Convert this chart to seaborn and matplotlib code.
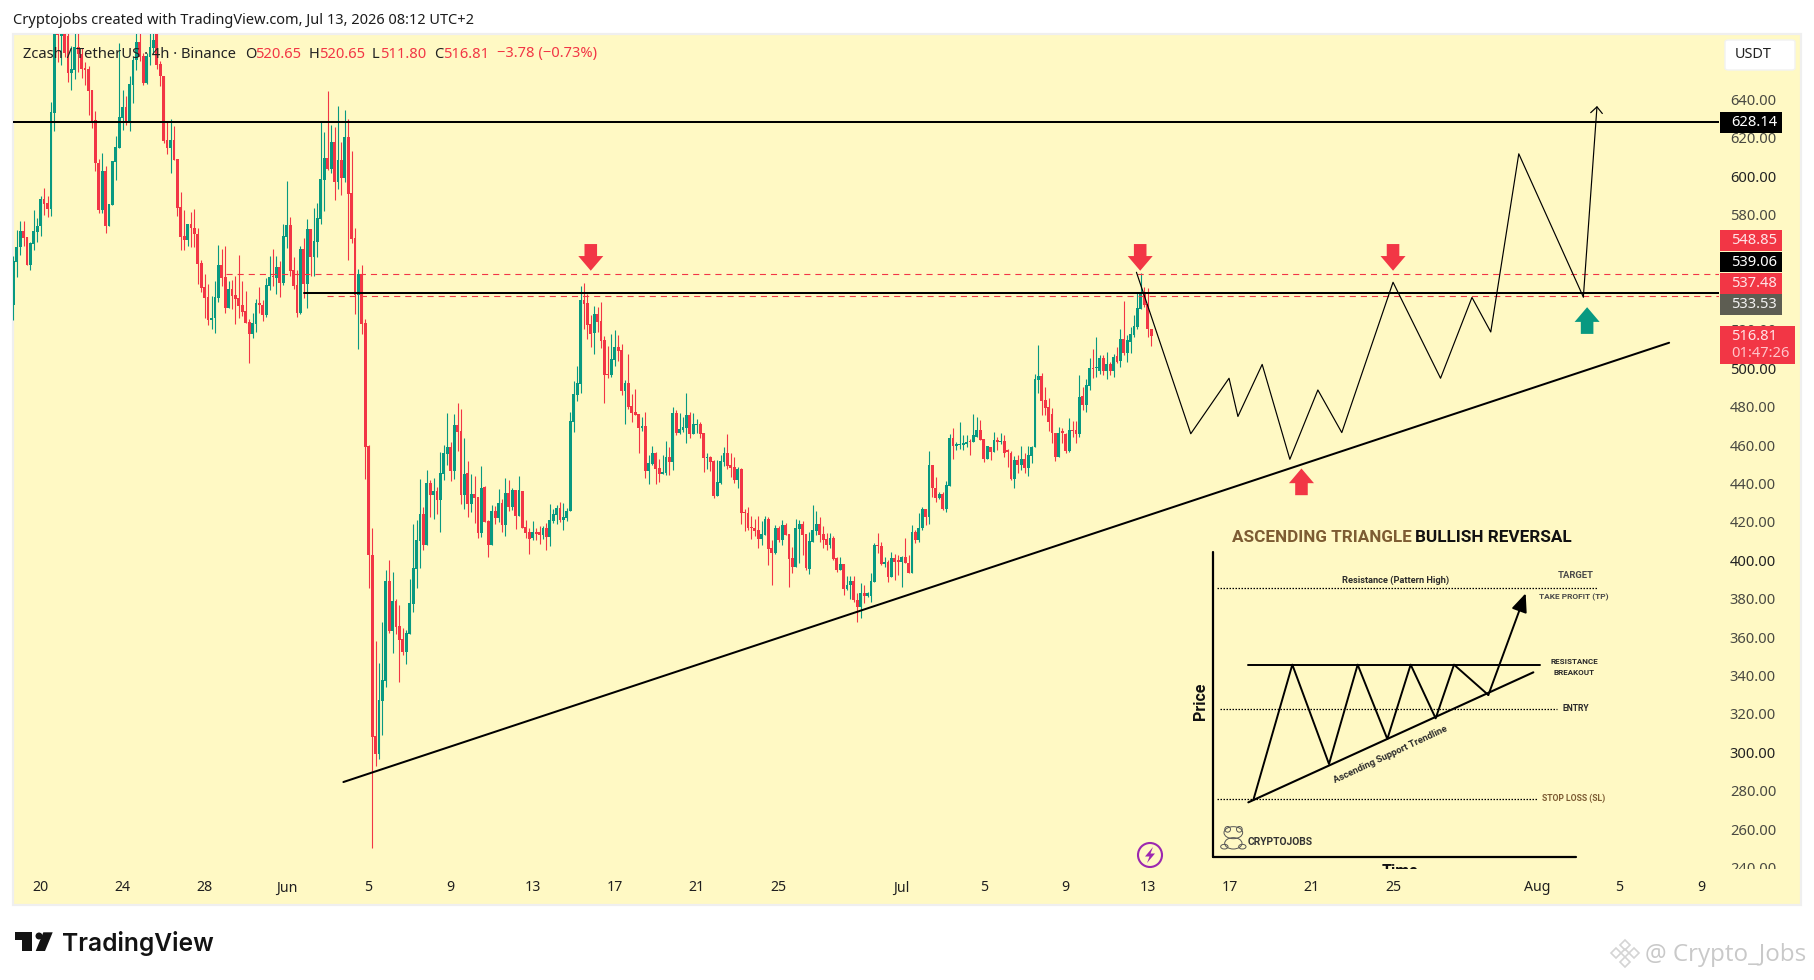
import numpy as np
import pandas as pd
import matplotlib
matplotlib.use("Agg")
import matplotlib.pyplot as plt
import seaborn as sns
from matplotlib.patches import Rectangle, Polygon, Ellipse, FancyBboxPatch
from matplotlib.transforms import Bbox

# ======================
# Config
# ======================
W, H = 1814, 980
YELLOW = "#fff9c4"
RED = "#f23645"
GREEN = "#089981"
BROWN = "#7d5c33"
MAIN_FONT = ["Noto Sans", "DejaVu Sans"]
NARROW_FONT = ["Roboto", "DejaVu Sans"]

# ======================
# Data: 4h candles, first bar is 8 bars before May 20
# ======================
first_bar = -8
opens = [
    533.1,555.5,563,571.3,568.3,554,564.9,571,
    573.9,588.1,585.9,583.1,633,678,673,680,673,654,
    655.2,667.3,663.8,656.4,656,645.1,629.1,606.9,582.6,602.6,
    574.3,585.2,607.4,614.7,630.3,636,628.6,647.7,660.4,669.9,
    662.8,648.6,662.1,666.8,675,658.5,652.4,618.7,614.7,618.7,
    609,584,569,567,575.2,573,570,554.9,542.2,537,
    524.9,526,536.8,553.8,547.4,531.4,541.3,538.2,536.5,533,
    529.9,524,517.9,523.1,534,533,527.8,543,548.3,547.2,
    552.8,544.6,568.6,574.7,551.2,543.4,528.8,562.2,544,572.6,
    558,565.8,577.8,598.1,609.6,603.8,617.9,597.1,608.5,599.2,
    620.5,591.3,567.9,538.2,549.2,523.6,459.5,402.8,308.5,299.1,
    326.7,337.1,389.2,363.2,378.8,365.8,359,352.2,361.6,377.2,
    395.5,410,424.1,408,440.3,434,436.1,431.4,445,455.4,
    459,446.5,470.5,467.4,434,445.5,429.3,434.5,433,414.2,
    438.2,420.5,408,425.7,422,429.9,418.4,435.1,427.8,436.6,
    423.1,436.1,417.4,414.7,411.6,414.7,414.7,413.2,416.8,412.1,
    420.5,423.6,427.2,421,422,425.7,472,486.1,491.8,535.6,
    534,523.1,518.4,528.3,524.6,514.7,497,496.5,504.3,511.1,
    509.5,488.2,492.3,480.4,477.2,476.2,469,470,446.5,450.2,
    455.9,448,445,445.5,453.8,451.2,476.7,466.3,467.9,468.9,
    475.7,465.8,470.5,471,466.3,453.3,453.8,451.7,433.5,440.3,
    451.2,455.9,449.6,448.6,441.8,447.6,425.2,424.6,417.4,416.8,
    415.8,411.1,413.2,421.5,406.4,403.8,416.8,410.6,418.4,413.7,
    401.2,396.5,416.3,418.9,413.7,395.5,409.7,415.2,418.9,413.7,
    411,408,411.8,401.2,394.9,398,385,387.1,389.4,379.3,
    375.8,382.8,381.4,381.4,388.8,408,407.5,398,399.3,391.5,
    401,399.8,399.3,401.5,398.7,393.5,414.5,410.5,416.6,426.5,
    422.7,449.6,437.5,432.2,434.5,426.5,438.7,463.5,459.7,459.9,
    460,460.5,462.1,461.4,464.4,467.8,463.2,452.7,459.1,456.2,
    462.6,461.4,462.1,457,455.7,442.3,452.2,449.6,452.7,448.2,
    454.5,458.8,493.9,496,483.5,480,476.2,466.1,453.9,467.5,
    465.8,457.1,467.8,467.8,465.8,485.5,480.9,490.8,500.3,500,
    498.7,505.2,498.7,502.2,498.6,506.4,504,515.2,508.1,513.8,
    517.3,521.3,530.9,539.4,533.5,520.65,
]
highs = [
    558.3,571.8,576.9,576.9,568.3,566,582.6,578.2,
    589.5,593.9,589.9,638.7,690,685,688,690,678,668,
    675,675,666.8,659.3,657.2,645.1,633.8,609.2,612.1,605.2,
    585.5,607.8,621.1,669.4,645.1,641.6,652,662.4,678,678,
    664.2,664,675,676,680,659.8,652.4,628.6,629.8,626.3,
    609,591.6,582.2,575.3,581.6,582.8,573,556.4,549,544,
    537.4,545.5,564.3,562.2,563.7,545.5,546,548.3,559,545.5,
    540.3,525.7,529,536.1,542.4,535.6,546.9,558.5,562.2,558.5,
    555.9,575.2,597.6,578.8,557.7,551.2,563.7,567.9,577.8,572.6,
    583.5,586.1,628.8,623.1,644.5,626.8,625.7,636.7,617.9,634.6,
    629.9,613.2,573.1,551.8,553.8,525.7,460,416.8,358,346.3,
    367.9,395,400.2,393.9,379.9,376.7,364.7,363.7,390.3,418.9,
    421,442.4,427.8,447,441.8,442.9,438.2,456.4,460,476.7,
    461.6,476.2,481.9,478.8,463.7,451.7,444.9,443.9,433,449.1,
    438.7,421,428.8,428.3,437.1,431.9,442.9,441.8,437.7,436.6,
    443.9,436.1,421,416.8,420.5,416.8,417.9,417.9,419.4,429.3,
    426.7,428.8,430.4,429.9,427.2,477.3,493.4,501.2,542.9,544.4,
    538.7,527.8,532.4,531.9,534.5,516.8,511.6,517.9,519.9,517.4,
    512.7,493.9,507.4,486.6,489.2,476.2,474.6,477.2,454.8,459.5,
    456.4,452.8,454.8,462.1,459,479.8,478.3,476.7,474.6,487.1,
    477.2,476.7,473.6,472,466.3,455.9,454.3,452.2,452.2,454.8,
    459,465.8,455.9,453.8,448.6,448,426.7,427.8,423,421.5,
    423,420.5,423,422.6,410.6,418.4,417.9,421,419.4,413.7,
    407,421.5,421,420.5,413.7,414.9,428.8,425.8,422.7,417.8,
    414,414.4,412.6,401.9,401.9,398,391.8,391.8,391.8,383,
    388,387.1,383.6,393.2,409.2,414,409.7,401.9,400.1,404.5,
    403.2,402.7,402.2,411.8,402.7,418.4,415.7,424.4,427.9,426.5,
    457,449.6,443.5,435.7,435.7,441.5,465.8,468.7,461.8,472.2,
    465.2,465.2,463,476.2,474.4,473,463.2,459.7,459.1,467,
    464.4,466.1,465.2,457.8,457,454.3,454.8,459.5,455.7,459.5,
    459.5,496.8,512.1,497.4,490,484.3,479.1,466.5,469.2,468.7,
    466.5,473.9,472.5,472.7,496.5,490.4,494.2,505.2,509.9,516.1,
    506.9,506.9,508.6,503.4,507.4,511.2,520.3,535,517.3,521.7,
    527.7,539,549.4,542.5,542,520.65,
]
lows = [
    525.3,547.5,559.1,563.5,554,551.3,561.8,565.6,
    569,580,578.8,579.5,623.4,659.3,658,662,649,645,
    650.6,654.1,651.2,647.7,632.1,625.1,602.6,580.9,580.9,570.4,
    574.3,585.2,598.2,614.7,624.3,626.9,623.7,638.1,655.2,660,
    647.7,648,658.1,663.8,656,646.8,617.3,611.8,601.7,608.6,
    579.5,561.8,561.8,563.5,563.4,563.4,544,539.6,526.4,522.6,
    520.5,518.6,534.7,542.9,529,531.4,531.1,523.1,526.2,527.3,
    523.5,503,515.8,519.1,529,524.7,526.8,540.8,543.1,538.7,
    537,543.4,562.4,548.3,541.3,526.8,528.3,536.7,531.4,548,
    548.1,558,575.2,582,603.3,601.8,587.7,593.4,590.3,597.1,
    556.4,565.3,528.3,510.1,517.9,442.4,385.8,250,293,296.5,
    309,334.2,362.3,351.7,361.6,336.6,350.7,346,361.6,373.1,
    385.6,396,405.4,408,422.6,421.5,424.1,414.7,441.8,449.6,
    441.3,442.4,456.9,429.3,426.7,422.6,425.2,419.4,411.6,412.1,
    420,401.7,408,418.9,420,414.7,412.7,425.7,426,416.3,
    423.1,416.8,411.6,403.3,410.6,410.6,408.5,411.1,405.4,407.5,
    419.4,418.9,420,415.8,420.5,425.7,466.8,483,487.1,520.5,
    515.3,511.1,507.4,518.9,510.6,482,495,495.5,501.2,503.8,
    486.1,471,478.8,472,475.7,455.9,467.3,443,439.7,449.6,
    439.7,440.8,445,444.4,444.4,447,465.3,465.8,466.8,461.1,
    463.7,465.8,466.3,463.7,446,447.5,446.5,432.4,433.5,439.7,
    449.1,447.5,443.4,440.3,437.7,418.9,415.3,415.8,411.1,412.7,
    406.4,408,413.2,397.5,387.1,403.3,409.5,408,413.2,386.1,
    393.4,396.5,398.6,402.8,394.9,392.7,409.7,413.2,409.7,406.2,
    405.3,406.2,400,394,394.9,381.9,384.5,380,378.4,368,
    369.8,377.6,380.7,378.4,388.8,403.6,397.5,396.7,388.8,391.5,
    389.7,392.3,386.2,398.4,393.5,393.5,409.2,409.7,416,418.4,
    418.7,433.1,430.5,432,426.2,425.3,438.7,452.7,457.4,457.8,
    457.4,458.8,454.8,461.4,464.4,462.6,451.3,452.7,452.2,456.2,
    457.4,460.5,453.6,448.7,441.8,437.8,445.3,447,445.3,444.1,
    450.5,458.8,487.3,475.7,475.7,467.3,460.9,451.9,453.6,461.2,
    455.7,456.6,464.4,461.2,464.4,478.3,477.4,488.7,494.8,495.3,
    496.8,496.5,494.2,496.5,495.6,502.6,500.8,506.9,503.1,507.8,
    516.5,520.3,530.9,532.1,516.5,511.8,
]
closes = [
    555.7,563.1,571.3,568,554,565.2,571.3,573.9,
    588.1,585.5,583.1,633.5,680,673.5,678,664.2,653.8,655.8,
    667.3,663.8,655.8,655.5,644.6,628.6,606.9,582.6,602.6,574.3,
    585.5,607.8,615,630.8,636,628,648,660.7,669.9,662.1,
    648.6,662.8,667.3,670.8,658.1,652,618.2,614.7,618.7,608.6,
    583.5,568.3,566.6,575.3,572.9,569.8,554.5,542,536.8,524.9,
    526.2,537,553.8,547.2,531.4,541.3,537.9,536.1,532.5,529.5,
    523.8,517.9,523.6,534,532.7,527.8,543.4,547.4,547.4,552.8,
    544.6,569,574.7,550.7,542.9,528.8,562.2,544,572.6,558,
    566.3,578.3,598.6,609.6,603.8,617.9,597.1,608.5,599.2,620.5,
    590.8,567.4,538.2,549.2,523.1,459.2,402.8,308.2,299.1,327.3,
    337.7,389.2,363.2,378.8,365.3,358.5,352.2,362.1,377.8,396,
    410.6,424.1,408,440.3,434,436.1,431.4,445.5,455.9,459,
    446.5,470.5,466.8,434,445,429.3,434.5,432.4,414.2,437.7,
    420,408,425.7,422,429.9,418.4,435.1,427.8,436.6,423.1,
    436.6,416.8,414.2,411.1,414.7,413.7,413.2,416.8,412.1,421,
    424.1,427.2,421,422.6,425.7,472.6,486.6,492.3,535.6,533.5,
    522.6,517.9,528.3,524.1,514.2,496.5,496.5,504.8,511.1,509,
    488.2,492.3,479.8,476.7,475.7,468.9,470,446.5,450.7,455.9,
    447.6,445,446,453.8,451.2,476.7,466.3,468.4,469.4,475.7,
    465.8,471,471,465.8,453.3,453.8,451.2,433.5,440.8,451.7,
    455.9,449.1,448,441.8,447.6,424.6,424.6,416.8,416.8,415.3,
    411.1,413.7,421.5,405.9,403.8,416.8,410.6,418.4,413.2,400.7,
    396.5,416.8,418.9,413.3,396,410,415.8,418.9,413.2,410.5,
    408,411.8,400.7,394.9,398,385,387.1,389.4,379.3,375.8,
    382.8,381.4,382.8,389.2,408,407.5,398,399.3,391.5,401,
    399.3,399.3,401.5,398.4,393.5,414.5,410.5,416.6,426.5,422.7,
    449.6,437.5,432.2,434.5,426.5,439.2,463.5,459.7,460,460.4,
    460.9,461.8,461.6,465.2,467.8,462.6,452.7,459.7,456.2,462.6,
    461.8,462.1,455.7,456.6,442.3,452.2,449.6,452.7,448.2,454.8,
    458.8,494.4,496,483.1,479.5,472.2,466.1,453.9,466.5,466.1,
    457.1,467.8,467.3,465.8,485.2,480.9,491.3,500,499.4,500.3,
    505.2,498.6,502.2,498.6,505.7,503.4,515.2,507.8,514.7,517.7,
    522,531.2,539.9,533,520.3,516.81,
]

# axis ticks (bars counted from May 20 00:00, six per day)
time_tick_bars = [0, 24, 48, 72, 96, 120, 144, 168, 192, 216, 252, 276, 300, 324, 348, 372, 396, 438, 462, 486]
time_tick_labels = ["20", "24", "28", "Jun", "5", "9", "13", "17", "21", "25", "Jul", "5", "9", "13", "17", "21", "25", "Aug", "5", "9"]
month_labels = ["Jun", "Jul", "Aug"]
# 540 and 560 sit fully behind the price badges
price_ticks = [p for p in range(240, 641, 20) if p not in (540, 560)]
bold_prices = [300, 400, 500, 600]

# drawn levels and forecast path
level_628 = 628.14
level_539 = 539.06
level_549 = 548.85
level_537 = 537.48
trend_bars = [88.6, 476.6]
trend_prices = [284.5, 513.3]
path_bars = [320.7, 336.6, 347.8, 350.4, 357.5, 365.6, 373.8, 380.8, 395.8, 409.7, 418.9, 424.4, 432.6, 451.5]
path_prices = [550, 465.9, 494.8, 474.9, 502, 452.6, 488.7, 466.5, 544.8, 494.8, 536.9, 518.9, 611.7, 537.1]
path_target = (455.5, 636.6)
down_arrow_bars = [161, 321.8, 395.8]
down_arrow_tip = 550.8
up_arrow_red = (369, 447.8)
up_arrow_green = (452.6, 531.8)

df = pd.DataFrame({"open": opens, "high": highs, "low": lows, "close": closes})
df["bar"] = np.arange(first_bar, first_bar + len(df))
df["up"] = df["close"] >= df["open"]


# ======================
# Helpers
# ======================
def fx(x):
    return x / W


def fy(y):
    return 1 - y / H


def fig_rect(fig, x0, y0, x1, y1, color, z=5):
    fig.add_artist(Rectangle((fx(x0), fy(y1)), fx(x1 - x0), (y1 - y0) / H, transform=fig.transFigure,
                             facecolor=color, edgecolor="none", zorder=z))


def fig_poly(fig, pts, z=5, **kw):
    fig.add_artist(Polygon([(fx(a), fy(b)) for a, b in pts], closed=True, transform=fig.transFigure, zorder=z, **kw))


def block_arrow(ax, bar, tip, direction, color):
    # direction -1 points down, +1 points up
    head_w, shaft_w, head_h, total_h = 3.66, 1.84, 7.65, 13.9
    s = -direction
    pts = [(bar, tip), (bar + head_w, tip + s * head_h), (bar + shaft_w, tip + s * head_h),
           (bar + shaft_w, tip + s * total_h), (bar - shaft_w, tip + s * total_h),
           (bar - shaft_w, tip + s * head_h), (bar - head_w, tip + s * head_h)]
    ax.add_patch(Polygon(pts, closed=True, facecolor=color, edgecolor="none", zorder=8))


def plot_line(ax, xs, ys, color="black", lw=1.45, z=6, **kw):
    sns.lineplot(x=xs, y=ys, ax=ax, color=color, linewidth=lw, sort=False, estimator=None,
                 errorbar=None, legend=False, zorder=z, **kw)


# ======================
# Main chart
# ======================
sns.set_theme(style="white", rc={"axes.grid": False})
plt.rcParams["font.family"] = MAIN_FONT

fig = plt.figure(figsize=(W / 100, H / 100), dpi=100, facecolor="white")
fig.add_artist(Rectangle((fx(13), fy(905)), fx(1788), 871 / H, transform=fig.transFigure,
                         facecolor=YELLOW, edgecolor="#efefef", linewidth=1.6, zorder=-1))

ax = fig.add_axes([fx(13), fy(869), fx(1719 - 13), (869 - 34) / H])
ax.patch.set_visible(False)
for s in ax.spines.values():
    s.set_visible(False)

colors = df["up"].map({True: GREEN, False: RED})
ax.vlines(df["bar"], df["low"], df["high"], colors=colors, linewidth=0.8, zorder=3)
ax.bar(df["bar"], (df["close"] - df["open"]).abs().clip(lower=0.6), bottom=df[["open", "close"]].min(axis=1),
       width=0.82, color=colors, linewidth=0, zorder=4)

# levels
left_edge, right_edge = -8.1, 491.2
plot_line(ax, [left_edge, right_edge], [level_628, level_628])
plot_line(ax, [77, right_edge], [level_539, level_539])
plot_line(ax, [54.1, right_edge], [level_549, level_549], color=RED, lw=0.8, linestyle=(0, (5.5, 4.5)))
plot_line(ax, [83.8, right_edge], [level_537, level_537], color=RED, lw=0.8, linestyle=(0, (5.5, 4.5)))
plot_line(ax, trend_bars, trend_prices)
plot_line(ax, path_bars, path_prices, lw=0.85, z=7)
ax.annotate("", xy=path_target, xytext=(path_bars[-1], path_prices[-1]), zorder=7,
            arrowprops=dict(arrowstyle="->,head_width=0.42,head_length=0.45", lw=0.85, color="black",
                            shrinkA=0, shrinkB=0, mutation_scale=10))

for b in down_arrow_bars:
    block_arrow(ax, b, down_arrow_tip, -1, RED)
block_arrow(ax, up_arrow_red[0], up_arrow_red[1], 1, RED)
block_arrow(ax, up_arrow_green[0], up_arrow_green[1], 1, GREEN)

ax.set_xlim(left_edge, right_edge)
ax.set_ylim(239.2, 674.1)
ax.set_xlabel("")
ax.set_ylabel("")

# axes labels
ax.set_xticks(time_tick_bars)
ax.set_xticklabels(time_tick_labels, fontsize=10.2, color="#1f1f1f")
for t in ax.get_xticklabels():
    if t.get_text() in month_labels:
        t.set_fontweight("bold")
ax.tick_params(axis="x", length=0, pad=8.2)
ax.yaxis.tick_right()
ax.set_yticks(price_ticks)
ax.set_yticklabels([f"{p:.2f}" for p in price_ticks], fontsize=10.6, color="#4a4a42")
ax.tick_params(axis="y", length=0, pad=7.8)
pane_clip = Bbox([[0, fy(869) * H], [W, H]])
for p, t in zip(price_ticks, ax.get_yticklabels()):
    if p in bold_prices:
        t.set_fontweight("bold")
        t.set_color("#222222")
    t.set_clip_box(pane_clip)
    t.set_clip_on(True)

# header texts
fig.text(fx(13), fy(20), "Cryptojobs created with TradingView.com, Jul 13, 2026 08:12 UTC+2",
         fontsize=10.5, color="#1c1c1c", va="center")
legend_y = fy(54)
fig.text(fx(23), legend_y, "Zcash / TetherUS · 4h · Binance", fontsize=10.6, color="#222222", va="center", zorder=6)
for x, s, c in [(245, "O", "#222222"), (255, "520.65", RED), (309, "H", "#222222"), (318.6, "520.65", RED),
                (372, "L", "#222222"), (380, "511.80", RED), (434, "C", "#222222"), (443.5, "516.81", RED),
                (497, "−3.78 (−0.73%)", RED)]:
    fig.text(fx(x), legend_y, s, fontsize=10.6, color=c, va="center", zorder=6)

# currency button
fig.add_artist(FancyBboxPatch((fx(1725), fy(70)), fx(70), 30 / H, boxstyle="round,pad=0,rounding_size=0.002",
                              transform=fig.transFigure, facecolor="white", edgecolor="#f2f2f2", linewidth=1, zorder=4))
fig.text(fx(1735), fy(54.7), "USDT", fontsize=10.4, color="#222222", va="center", zorder=6)

# price badges
badges = [("628.14", 112.3, 132.7, "black", "white"), ("548.85", 230, 250.7, RED, "#ffe3e6"),
          ("539.06", 252.3, 272.3, "black", "white"), ("537.48", 273.3, 294, RED, "#ffe3e6"),
          ("533.53", 294.3, 315, "#5d5d52", "#f2f2f2")]
for label, y0, y1, bg, fg in badges:
    fig_rect(fig, 1720, y0, 1781.7, y1, bg)
    fig.text(fx(1731), fy((y0 + y1) / 2), label, fontsize=10.6, color=fg, va="center", zorder=6)
fig_rect(fig, 1720, 326, 1795, 364, RED)
fig.text(fx(1731), fy(336), "516.81", fontsize=10.6, color="#ffe3e6", va="center", zorder=6)
fig.text(fx(1731), fy(353.5), "01:47:26", fontsize=10.6, color="#ffc4ca", va="center", zorder=6)

# lightning icon
fig.add_artist(Ellipse((fx(1150), fy(855)), 24 / W, 24 / H, transform=fig.transFigure, facecolor="none",
                       edgecolor="#9c27b0", linewidth=1.5, zorder=5))
fig_poly(fig, [(1153, 847), (1145, 856.5), (1149.5, 856.5), (1147, 863), (1155, 853.5), (1150.5, 853.5)],
         facecolor="#9c27b0", edgecolor="none")

# TradingView logo
fig_poly(fig, [(15, 932.3), (31.7, 932.3), (31.7, 951), (22.3, 951), (22.3, 940), (15, 940)],
         facecolor="#131313", edgecolor="none")
fig.add_artist(Ellipse((fx(39), fy(936)), 7 / W, 7 / H, transform=fig.transFigure, facecolor="#131313",
                       edgecolor="none", zorder=5))
fig_poly(fig, [(43.3, 932.3), (52.7, 932.3), (45, 951), (35.7, 951)], facecolor="#131313", edgecolor="none")
fig.text(fx(62), fy(951), "TradingView", fontsize=17.7, fontweight="semibold", family=["Inter", "Noto Sans"],
         color="#131313", va="baseline", zorder=5)

# watermark
gray = "#d4d4d4"
for cx, cy, r in [(1625, 945, 5), (1616, 953, 5), (1634, 953, 5), (1625, 962, 5), (1625, 953, 4)]:
    fig_poly(fig, [(cx - r, cy), (cx, cy - r), (cx + r, cy), (cx, cy + r)], facecolor="none", edgecolor=gray, linewidth=1.2)
fig.text(fx(1645), fy(955), "@ Crypto_Jobs", fontsize=17.4, family=["Open Sans", "Noto Sans"], color="#c9c9c9", va="center", zorder=5)

# ======================
# Inset pattern diagram
# ======================
inset = fig.add_axes([fx(1180), fy(869), fx(460), 359 / H], zorder=2)
inset.axis("off")
inset.patch.set_visible(False)

plot_line(inset, [100, 100], [125, 1040], lw=1.6)
plot_line(inset, [100, 1187], [1040, 1040], lw=1.6)
for xs, y in [((110, 1250), 235), ((120, 1130), 597), ((110, 1075), 866)]:
    plot_line(inset, list(xs), [y, y], lw=0.9, linestyle=(0, (1.2, 1.2)))
plot_line(inset, [205, 1080], [464, 464], lw=1.4)
plot_line(inset, [205, 1060], [877, 487], lw=1.5)
zig_x = [220, 337, 447, 533, 622, 692, 767, 822, 925]
zig_y = [870, 464, 762, 464, 687, 464, 625, 464, 555]
plot_line(inset, zig_x, zig_y, lw=1.4)
inset.annotate("", xy=(1037, 250), xytext=(925, 555), annotation_clip=False,
               arrowprops=dict(arrowstyle="-|>,head_width=0.32,head_length=0.75", lw=1.4, color="black",
                               shrinkA=0, shrinkB=0, mutation_scale=15))
inset.set_xlabel("")
inset.set_ylabel("")
inset.set_xlim(0, 1380)
inset.set_ylim(1077, 0)


def itext(x, y, s, size=7.2, color="#2b2b2b", weight="bold", **kw):
    kw.setdefault("ha", "center")
    inset.text(x, y, s, fontsize=size, color=color, fontweight=weight, family=NARROW_FONT, va="center", **kw)


itext(155, 82, "ASCENDING TRIANGLE", size=12.3, color=BROWN, ha="left")
itext(705, 82, "BULLISH REVERSAL", size=12.3, color="#111111", ha="left")
itext(648, 210, "Resistance (Pattern High)", size=6.7)
itext(1186, 198, "TARGET", size=6.8, color="#4a4a4a")
itext(1182, 262, "TAKE PROFIT (TP)", size=6, color="#4a4a4a")
itext(1182, 453, "RESISTANCE", size=5.8)
itext(1182, 488, "BREAKOUT", size=5.8)
itext(1186, 595, "ENTRY", size=6.2)
itext(1180, 866, "STOP LOSS (SL)", size=6.2, color=BROWN)
itext(632, 735, "Ascending Support Trendline", size=6.8, rotation=25, rotation_mode="anchor")
itext(300, 995, "CRYPTOJOBS", size=7.4, color="#333333")
itext(60, 575, "Price", size=11.5, color="#111111", rotation=90)
inset.text(660, 1086, "Time", fontsize=11.5, fontweight="bold", family=NARROW_FONT, color="#111111",
           ha="center", va="center", clip_on=True)

# frog mark
for cx, cy, ew, eh in [(160, 968, 56, 36), (143, 958, 17, 17), (178, 958, 17, 17), (160, 1000, 52, 34),
                       (133, 1010, 22, 14), (187, 1010, 22, 14)]:
    inset.add_patch(Ellipse((cx, cy), ew, eh, facecolor="none", edgecolor="#555555", linewidth=0.7))

fig.savefig("out.png", dpi=100, facecolor="white")
